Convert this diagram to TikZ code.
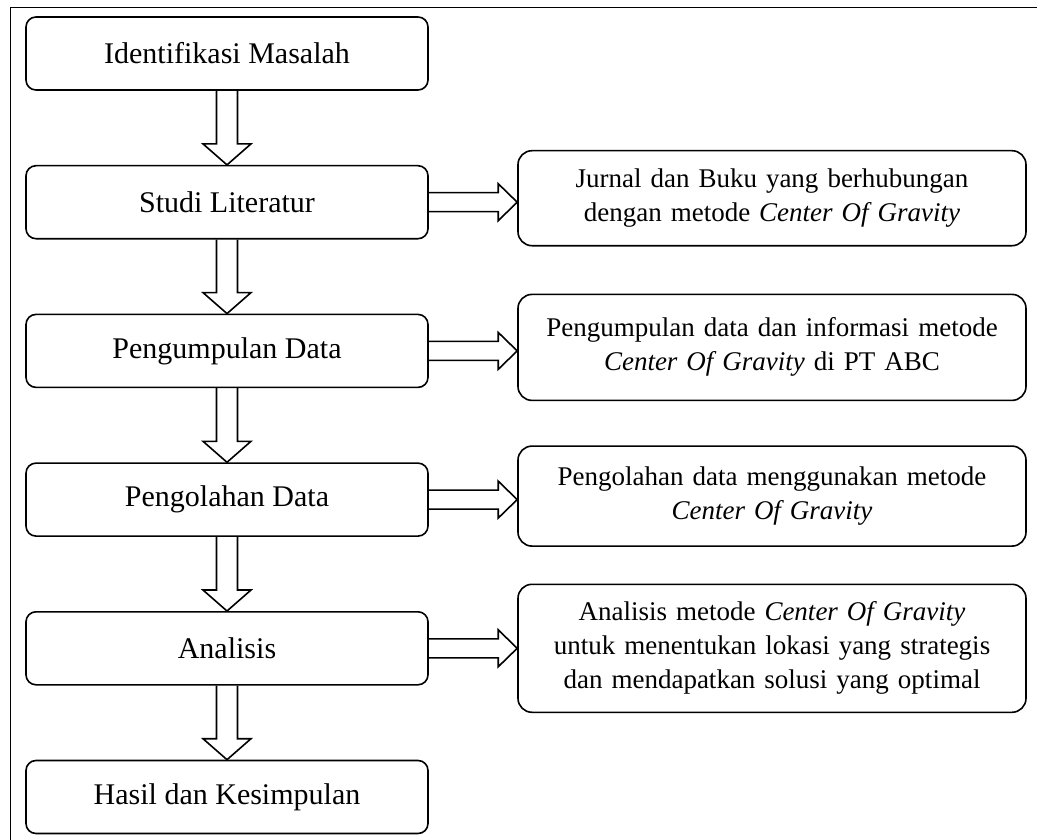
\documentclass[tikz,border=0pt]{standalone}
\usepackage{fontspec}
\setmainfont{Liberation Serif}
\usetikzlibrary{positioning,calc}

\newcommand{\cog}{\textit{Center Of Gravity}}

% panah blok ke bawah antar tahap
\newcommand{\panahbawah}[2]{%
  \draw[panah] ($(#1.south)+(-10.5pt,0)$) -- ($(#2.north)+(-10.5pt,21pt)$)
    -- ($(#2.north)+(-24pt,21pt)$) -- (#2.north) -- ($(#2.north)+(24pt,21pt)$)
    -- ($(#2.north)+(10.5pt,21pt)$) -- ($(#1.south)+(10.5pt,0)$);}

% panah blok ke kanan menuju keterangan
\newcommand{\panahkanan}[2]{%
  \draw[panah] ($(#1.east)+(0,9.5pt)$) -- ($(#2.west |- #1.east)+(-19pt,9.5pt)$)
    -- ($(#2.west |- #1.east)+(-19pt,18.5pt)$) -- (#2.west |- #1.east)
    -- ($(#2.west |- #1.east)+(-19pt,-18.5pt)$) -- ($(#2.west |- #1.east)+(-19pt,-9.5pt)$)
    -- ($(#1.east)+(0,-9.5pt)$);}

\begin{document}
\begin{tikzpicture}[x=1pt,y=-1pt,node distance=148.7pt,on grid,
		tahap/.style={rectangle,rounded corners=10pt,draw=black,line width=1.6pt,minimum width=402pt,minimum height=73pt,inner sep=0pt,font=\fontsize{30}{34}\selectfont},
		ket/.style={rectangle,rounded corners=14pt,draw=black,line width=1.6pt,minimum width=508pt,text width=496pt,align=center,inner sep=0pt,font=\fontsize{27}{34}\selectfont},
		panah/.style={line width=1.6pt}]
		\useasboundingbox (0,0) rectangle (1037,840);
		\draw[line width=1pt] (10,840) -- (10,8) -- (1037,8);
		
		\node[tahap]  (identifikasi) at (227,53.5)          {Identifikasi Masalah};
		\node[tahap]  (studi)    [below=of identifikasi]    {Studi Literatur};
		\node[tahap]  (kumpul)   [below=of studi]           {Pengumpulan Data};
		\node[tahap]  (olah)     [below=of kumpul]          {Pengolahan Data};
		\node[tahap]  (analisis) [below=of olah]            {Analisis};
		\node[tahap]  (hasil)    [below=of analisis]        {Hasil dan Kesimpulan};
		
		\node[ket,minimum height=95pt]  (jurnal)   [right=545pt of studi,yshift=4pt]
			{Jurnal dan Buku yang berhubungan\\ dengan metode \cog};
		\node[ket,minimum height=106pt] (infodata) [right=545pt of kumpul,yshift=3.5pt]
			{Pengumpulan data dan informasi metode\\ \cog{} di PT ABC};
		\node[ket,minimum height=100pt] (metode)   [right=545pt of olah,yshift=3.5pt]
			{Pengolahan data menggunakan metode\\ \cog};
		\node[ket,minimum height=128pt] (solusi)   [right=545pt of analisis]
			{Analisis metode \cog\\ untuk menentukan lokasi yang strategis\\ dan mendapatkan solusi yang optimal};
		
		\panahbawah{identifikasi}{studi}
		\panahbawah{studi}{kumpul}
		\panahbawah{kumpul}{olah}
		\panahbawah{olah}{analisis}
		\panahbawah{analisis}{hasil}
		
		\panahkanan{studi}{jurnal}
		\panahkanan{kumpul}{infodata}
		\panahkanan{olah}{metode}
		\panahkanan{analisis}{solusi}
\end{tikzpicture}
\end{document}
